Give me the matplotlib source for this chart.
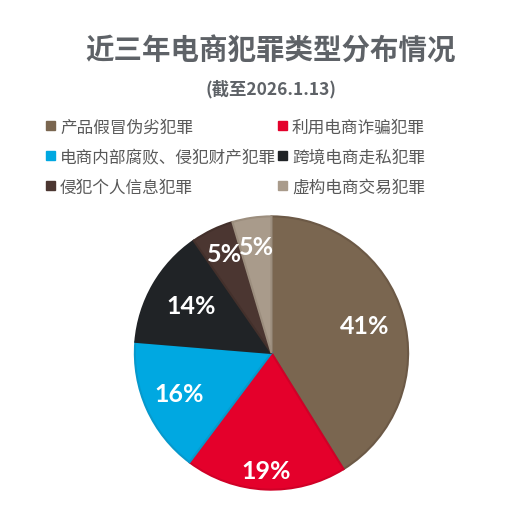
import matplotlib.pyplot as plt
from matplotlib.patches import Rectangle
import numpy as np

plt.rcParams['font.family'] = ['Noto Sans CJK SC', 'DejaVu Sans']

# data
categories = ['产品假冒伪劣犯罪', '利用电商诈骗犯罪', '电商内部腐败、侵犯财产犯罪',
              '跨境电商走私犯罪', '侵犯个人信息犯罪', '虚构电商交易犯罪']
shares = [41, 19, 16, 14, 5, 4.6]
pct_labels = ['41%', '19%', '16%', '14%', '5%', '5%']
colors = ['#7A6650', '#E4002B', '#00A8E1', '#202326', '#4B3631', '#A99B8B']
edge_colors = ['#6C5946', '#D00027', '#0799CC', '#202326', '#43302B', '#9C8E7E']
label_r = [0.71, 0.87, 0.74, 0.68, 0.80, 0.78]

W, H = 510, 520
fig = plt.figure(figsize=(W / 100, H / 100), dpi=100)
fig.patch.set_facecolor('white')

fig.text(271 / W, 1 - 52 / H, '近三年电商犯罪类型分布情况', ha='center', va='center',
         fontsize=20.5, fontweight='bold', color='#5E6267')
fig.text(271 / W, 1 - 89 / H, '(截至2026.1.13)', ha='center', va='center',
         fontsize=12.5, fontweight='bold', color='#5E6267')

# legend, two columns
col_x = [46, 278]
row_y = [128, 158, 188]
for i, (name, c) in enumerate(zip(categories, colors)):
    x = col_x[i % 2]
    y = row_y[i // 2]
    fig.patches.append(Rectangle((x / W, 1 - (y + 2) / H), 9 / W, 9 / H,
                                 transform=fig.transFigure, color=c))
    fig.text((x + 14) / W, 1 - y / H, name, ha='left', va='center',
             fontsize=12, color='#595959')

# pie
cx, cy, r = 271.5, 353, 138
ax = fig.add_axes([(cx - r) / W, (H - cy - r) / H, 2 * r / W, 2 * r / H])
wedges, _ = ax.pie(shares, colors=colors, startangle=90, counterclock=False,
                   radius=1, wedgeprops=dict(linewidth=1.5))
for w, ec in zip(wedges, edge_colors):
    w.set_edgecolor(ec)
ax.set_xlim(-1.01, 1.01)
ax.set_ylim(-1.01, 1.01)
ax.set_aspect('auto')
ax.axis('off')

for w, lab, rr in zip(wedges, pct_labels, label_r):
    ang = np.deg2rad((w.theta1 + w.theta2) / 2)
    ax.text(rr * np.cos(ang), rr * np.sin(ang), lab, ha='center', va='center',
            fontsize=18, fontweight='bold', color='white', family=['Lato', 'DejaVu Sans'])

fig.savefig('out.png', dpi=100)
